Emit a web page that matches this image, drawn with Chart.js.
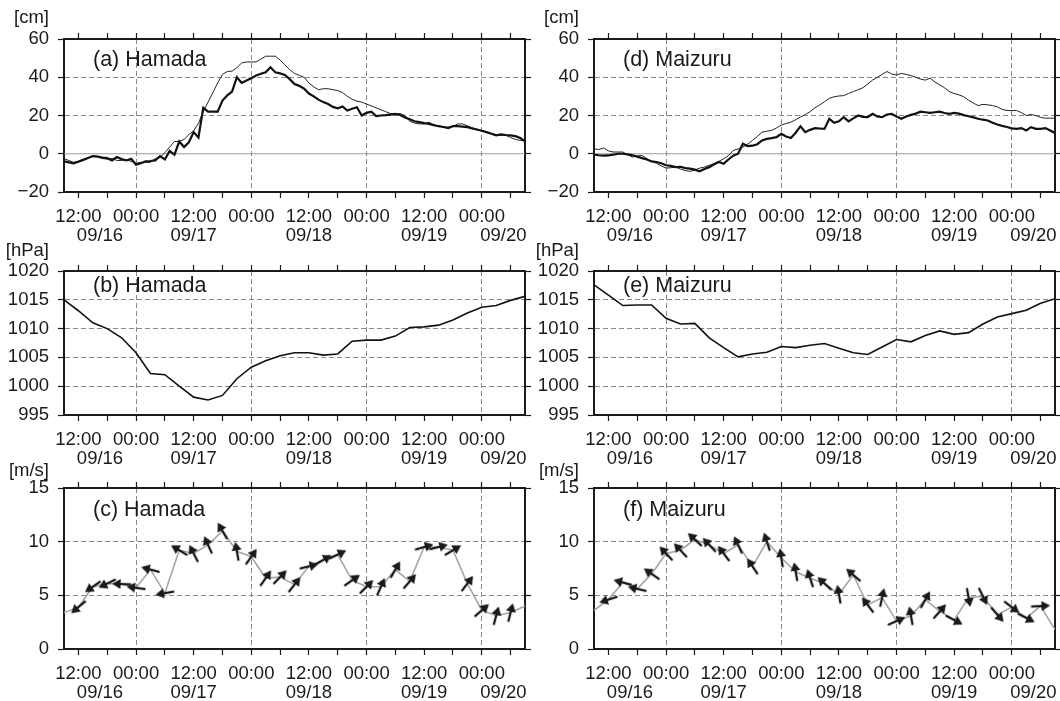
<!DOCTYPE html>
<html>
<head>
<meta charset="utf-8">
<script src="https://cdn.jsdelivr.net/npm/chart.js@4.4.1/dist/chart.umd.min.js"></script>
<style>
  html, body { margin: 0; padding: 0; background: #fff; }
  body { width: 1060px; height: 701px; position: relative; overflow: hidden; }
  .panel { position: absolute; }
</style>
</head>
<body>
<div class="panel" style="left:0;top:0;width:540px;height:250px"><canvas id="pa"></canvas></div>
<div class="panel" style="left:529px;top:0;width:531px;height:250px"><canvas id="pd"></canvas></div>
<div class="panel" style="left:0;top:240px;width:540px;height:230px"><canvas id="pb"></canvas></div>
<div class="panel" style="left:529px;top:240px;width:531px;height:230px"><canvas id="pe"></canvas></div>
<div class="panel" style="left:0;top:455px;width:540px;height:250px"><canvas id="pc"></canvas></div>
<div class="panel" style="left:529px;top:455px;width:531px;height:250px"><canvas id="pf"></canvas></div>
<script>
// time in hours counted from 09/16 00:00
const hourTicks = [12, 18, 24, 30, 36, 42, 48, 54, 60, 66, 72, 78, 84, 90, 96, 102];
const dateNames = ['09/16', '09/17', '09/18', '09/19', '09/20'];
const dateHours = [16.5, 36, 60, 84, 100.5];

// hourly sea level, 09/16 09:00 .. 09/20 09:00
const seaHours = [];
for (let h = 9; h <= 105; h++) seaHours.push(h);

const hamadaThick = [
  -4, -4.5, -5, -4.2, -3.2, -2.2, -1.2, -1.5, -2, -2.3,
  -3.5, -1.7, -2.8, -3.5, -2.6, -5.7, -5, -4, -3.8, -3.5,
  -1.2, -3, 1.5, -0.5, 6.4, 3.5, 6, 11.3, 8.5, 24,
  22, 22, 22, 27.8, 30.5, 32.5, 40, 37, 38.3, 39.5,
  40.9, 41.8, 42.6, 45.2, 42.6, 42, 41.2, 39, 36.5, 35.5,
  34, 31.5, 30, 28.3, 27, 26, 24.5, 23.8, 24.7, 22.6,
  23.5, 24.3, 20, 21.4, 22, 19.7, 20, 20.2, 20.5, 20.8,
  20.3, 19, 18, 17, 16.5, 16, 15.6, 15, 14.4, 14,
  13.4, 14.4, 14.4, 14.2, 13.9, 13.3, 12.7, 12, 11.3, 10.5,
  9.6, 10.1, 9.8, 9.6, 9.2, 8.2, 6.5
];
const hamadaThin = [
  -2.6, -3.5, -4.5, -3.8, -3, -2, -1.5, -1.3, -2.5, -2.8,
  -2.5, -3.5, -3.5, -3.2, -4, -5, -4.5, -4.5, -4.5, -2.5,
  -2, 0.5, 3.5, 6.4, 6.4, 7.5, 10, 12, 16, 22,
  27, 32, 37, 41.5, 43, 43.2, 45, 47.5, 48, 48,
  48, 49.5, 51, 51, 51, 49, 46.5, 44, 42, 41,
  40, 37, 35, 33.5, 34, 34, 33.5, 33, 32, 30,
  28.5, 27.5, 27, 26, 25, 24, 23, 22, 21, 20.8,
  21, 20, 17, 16, 15.6, 15.6, 16.5, 15, 14.6, 14,
  13.9, 14.4, 15.6, 15.6, 14.6, 13.5, 12.5, 12, 11.3, 10.5,
  10, 9.6, 9.6, 8.5, 7.5, 7, 7
];
const maizuruThick = [
  -0.5, -0.8, -1, -0.9, -0.5, 0, 0, -0.3, -0.8, -1.5,
  -2.3, -3, -4, -4.3, -5, -6, -6.3, -7, -6.8, -7.5,
  -7.8, -8.3, -9.2, -8, -7, -5.5, -4.3, -5.2, -3, -1,
  0, 5.2, 4, 4.2, 5, 7, 7.8, 8.2, 8.7, 10.4,
  9, 8.2, 11, 14.4, 11.3, 12.5, 13.4, 13.2, 13, 18.3,
  16.2, 17, 19.1, 16.9, 18.5, 20, 19.3, 19.1, 20.9, 19.5,
  19.1, 20.5, 20.9, 19.5, 18.3, 19.5, 20.3, 21, 22, 21.7,
  21.4, 21.7, 22, 21.3, 20.9, 21.4, 21, 20.2, 19.6, 19,
  18.3, 17.8, 17.4, 16.2, 15.3, 14.6, 14, 13.3, 13, 13.4,
  12.2, 13.9, 13, 13, 13.4, 12.2, 10.8
];
const maizuruThin = [
  2.6, 2.2, 3, 1.5, 0.9, 0.9, 0.9, -0.5, -1.7, -1.2,
  -0.9, -2.5, -4, -5, -6.3, -7.5, -7.3, -7, -8, -8.8,
  -9.2, -8.5, -7.5, -7, -6, -5.2, -4, -2.6, -1, 1.7,
  2.5, 3.5, 5, 7, 9, 11.3, 11.8, 12.2, 13.5, 15,
  15.8, 16.5, 17.8, 19.2, 20.5, 22, 24, 25.5, 27.2, 29,
  29.8, 30.2, 30.4, 31.5, 32.5, 33.5, 34.5, 36.5, 38.5, 40,
  41.5, 43, 41.7, 41.2, 42, 41.5, 40.9, 40, 39, 38.5,
  39.5, 37.5, 36, 34.5, 32.5, 31.5, 30.8, 29.8, 28, 26.5,
  25.2, 25.8, 25.6, 25.2, 24.5, 23.2, 22.6, 22.6, 22.6, 21.5,
  20, 20.5, 20, 19, 18.6, 18.6, 18.6
];

// 3-hourly pressure and wind, 09/16 09:00 .. 09/20 09:00
const obsHours = [9, 12, 15, 18, 21, 24, 27, 30, 33, 36, 39, 42, 45, 48, 51, 54, 57,
  60, 63, 66, 69, 72, 75, 78, 81, 84, 87, 90, 93, 96, 99, 102, 105];
const hamadaPres = [1015, 1013.1, 1011, 1010, 1008.4, 1005.8, 1002.2, 1002, 1000, 998.1, 997.6,
  998.4, 1001.3, 1003.3, 1004.4, 1005.3, 1005.8, 1005.8, 1005.4, 1005.6, 1007.8, 1008,
  1008, 1008.7, 1010.2, 1010.3, 1010.6, 1011.5, 1012.7, 1013.7, 1014, 1014.9, 1015.6];
const maizuruPres = [1017.6, 1015.8, 1014, 1014.1, 1014.1, 1011.8, 1010.8, 1010.9, 1008.4, 1006.7, 1005.1,
  1005.6, 1005.9, 1006.9, 1006.7, 1007.1, 1007.4, 1006.6, 1005.8, 1005.5, 1006.8, 1008.1,
  1007.7, 1008.8, 1009.6, 1009, 1009.3, 1010.8, 1012, 1012.6, 1013.2, 1014.4, 1015.2];
const hamadaWind = [3.4, 3.9, 5.8, 6.1, 6.05, 5.7, 7.4, 5.2, 9.2, 8.9, 9.7, 11, 9.1, 8.6, 6.6, 6.7, 6.0,
  7.7, 8.3, 8.8, 6.4, 5.8, 5.8, 7.4, 6.3, 9.5, 9.5, 9.2, 6.1, 3.6, 3.1, 3.4, 4.0];
// direction the arrow points to, degrees clockwise from up
const hamadaDir = [null, 230, 235, 244, 272, 278, 285, 260, 301, 333, 336, 330, 350, 35, 35, 44, 38,
  76, 60, 64, 55, 45, 24, 30, 41, 74, 76, 59, 37, 49, 15, 14, null];
const maizuruWind = [3.6, 4.6, 6.2, 5.6, 7.0, 8.9, 9.2, 10.2, 9.7, 8.9, 9.7, 7.7, 10.0, 8.5, 7.2, 6.6, 6.1,
  5.1, 6.9, 4.1, 4.8, 2.6, 3.1, 4.6, 3.5, 2.7, 4.8, 4.9, 3.2, 3.9, 2.9, 4.0, 1.8];
const maizuruDir = [null, 252, 285, 283, 305, 317, 317, 313, 317, 323, 335, 326, 342, 351, 350, 342, 313,
  350, 311, 323, 12, 66, 350, 29, 41, 118, 170, 154, 139, 127, 117, 87, null];

const seaTicks = [-20, 0, 20, 40, 60];
const presTicks = [995, 1000, 1005, 1010, 1015, 1020];
const windTicks = [0, 5, 10, 15];

const FONT = "'Liberation Sans', Arial, Helvetica, sans-serif";
const INK = '#1a1a1a';
const GRID = '#8a8a8a';
const tickFont = { family: FONT, size: 18.5, lineHeight: 1 };

Chart.defaults.animation = false;
Chart.defaults.font.family = FONT;

// wind arrow, drawn pointing up, rotated per point
function makeArrow() {
  const c = document.createElement('canvas');
  c.width = 20; c.height = 20;
  const g = c.getContext('2d');
  g.strokeStyle = INK; g.fillStyle = INK; g.lineWidth = 2.3;
  g.beginPath(); g.moveTo(10, 19.5); g.lineTo(10, 7); g.stroke();
  g.beginPath(); g.moveTo(10, 0.5); g.lineTo(5, 9); g.lineTo(15, 9); g.closePath(); g.fill();
  return c;
}
const arrowImg = makeArrow();

const panelDecor = {
  id: 'panelDecor',
  beforeDatasetsDraw(chart, args, opts) {
    if (!opts.zeroLine) return;
    const { ctx, chartArea: a } = chart;
    const y = chart.scales.y.getPixelForValue(0);
    ctx.save();
    ctx.strokeStyle = '#9a9a9a';
    ctx.lineWidth = 1;
    ctx.beginPath(); ctx.moveTo(a.left, y); ctx.lineTo(a.right, y); ctx.stroke();
    ctx.restore();
  },
  afterDraw(chart, args, opts) {
    const { ctx, chartArea: a } = chart;
    const xs = chart.scales.x;
    ctx.save();
    ctx.fillStyle = INK;
    ctx.textBaseline = 'middle';
    ctx.font = '21.5px ' + FONT;
    ctx.textAlign = 'left';
    ctx.fillText(opts.title, a.left + 29, a.top + opts.titleDy);
    ctx.font = '18.5px ' + FONT;
    ctx.textAlign = 'right';
    ctx.fillText(opts.unit, a.left - 15, a.top - opts.unitDy);
    ctx.textAlign = 'center';
    dateNames.forEach((d, i) => ctx.fillText(d, xs.getPixelForValue(dateHours[i]), a.bottom + 44));
    ctx.restore();
  }
};

function setTicks(vals) {
  return scale => { scale.ticks = vals.map(v => ({ value: v })); };
}

function buildScales(yTicks, col, row, zero) {
  const yMin = yTicks[0], yMax = yTicks[yTicks.length - 1];
  const fmt = v => (v < 0 ? '\u2212' + Math.abs(v) : String(v));
  const frame = { color: INK, width: 2 };
  const marks = { drawOnChartArea: false, tickLength: 6, tickColor: INK, tickWidth: 1.2 };
  return {
    x: {
      type: 'linear', position: 'bottom', min: 9, max: 105,
      afterBuildTicks: setTicks(hourTicks),
      afterFit: s => { s.height = row.bottomH; },
      grid: {
        color: c => (c.tick && c.tick.value % 24 === 0 ? GRID : 'rgba(0,0,0,0)'),
        lineWidth: 1, tickLength: 6, tickColor: INK, tickWidth: 1.2
      },
      border: { color: INK, width: 2, dash: [5, 3] },
      ticks: {
        autoSkip: false, maxRotation: 0, padding: 10, color: INK, font: tickFont,
        callback: v => (v % 24 === 12 ? '12:00' : v % 24 === 0 ? '00:00' : '')
      }
    },
    xTop: {
      type: 'linear', position: 'top', min: 9, max: 105,
      afterBuildTicks: setTicks(hourTicks),
      afterFit: s => { s.height = row.topH; },
      grid: marks, border: frame, ticks: { display: false }
    },
    y: {
      type: 'linear', position: 'left', min: yMin, max: yMax,
      afterBuildTicks: setTicks(yTicks),
      afterFit: s => { s.width = col.leftW; },
      grid: {
        color: c => {
          const v = c.tick ? c.tick.value : null;
          return (v === yMin || v === yMax || (zero && v === 0)) ? 'rgba(0,0,0,0)' : GRID;
        },
        lineWidth: 1, tickLength: 6, tickColor: INK, tickWidth: 1.2
      },
      border: { color: INK, width: 2, dash: [5, 3] },
      ticks: { padding: 9, color: INK, font: tickFont, callback: fmt }
    },
    yRight: {
      type: 'linear', position: 'right', min: yMin, max: yMax,
      afterBuildTicks: setTicks(yTicks),
      afterFit: s => { s.width = col.rightW; },
      grid: marks, border: frame, ticks: { display: false }
    }
  };
}

const leftCol = { leftW: 64, rightW: 15 };
const rightCol = { leftW: 65, rightW: 5 };
const row1 = { topH: 39, bottomH: 58, titleDy: 21, unitDy: 21 };
const row2 = { topH: 31, bottomH: 55, titleDy: 15, unitDy: 20 };
const row3 = { topH: 33, bottomH: 56, titleDy: 22, unitDy: 17 };

function makePanel(id, datasets, yTicks, col, row, title, unit, zero) {
  new Chart(document.getElementById(id), {
    type: 'line',
    data: { datasets },
    options: {
      responsive: true, maintainAspectRatio: false, events: [],
      layout: { padding: 0, autoPadding: false },
      plugins: {
        legend: { display: false }, tooltip: { enabled: false },
        panelDecor: { title, unit, zeroLine: zero, titleDy: row.titleDy, unitDy: row.unitDy }
      },
      scales: buildScales(yTicks, col, row, zero)
    },
    plugins: [panelDecor]
  });
}

function seaSets(thick, thin) {
  return [
    { data: seaHours.map((h, i) => ({ x: h, y: thick[i] })), borderColor: '#111', borderWidth: 2.2, pointRadius: 0, tension: 0 },
    { data: seaHours.map((h, i) => ({ x: h, y: thin[i] })), borderColor: '#222', borderWidth: 1, pointRadius: 0, tension: 0 }
  ];
}
function presSets(pres) {
  return [{ data: obsHours.map((h, i) => ({ x: h, y: pres[i] })), borderColor: '#111', borderWidth: 1.6, pointRadius: 0, tension: 0 }];
}
function windSets(speed, dir) {
  return [{
    data: obsHours.map((h, i) => ({ x: h, y: speed[i] })),
    borderColor: '#a6a6a6', borderWidth: 1.6, tension: 0,
    pointStyle: arrowImg,
    pointRadius: c => (dir[c.dataIndex] == null ? 0 : 3),
    rotation: c => dir[c.dataIndex] || 0
  }];
}

makePanel('pa', seaSets(hamadaThick, hamadaThin), seaTicks, leftCol, row1, '(a) Hamada', '[cm]', true);
makePanel('pd', seaSets(maizuruThick, maizuruThin), seaTicks, rightCol, row1, '(d) Maizuru', '[cm]', true);
makePanel('pb', presSets(hamadaPres), presTicks, leftCol, row2, '(b) Hamada', '[hPa]', false);
makePanel('pe', presSets(maizuruPres), presTicks, rightCol, row2, '(e) Maizuru', '[hPa]', false);
makePanel('pc', windSets(hamadaWind, hamadaDir), windTicks, leftCol, row3, '(c) Hamada', '[m/s]', false);
makePanel('pf', windSets(maizuruWind, maizuruDir), windTicks, rightCol, row3, '(f) Maizuru', '[m/s]', false);
</script>
</body>
</html>
